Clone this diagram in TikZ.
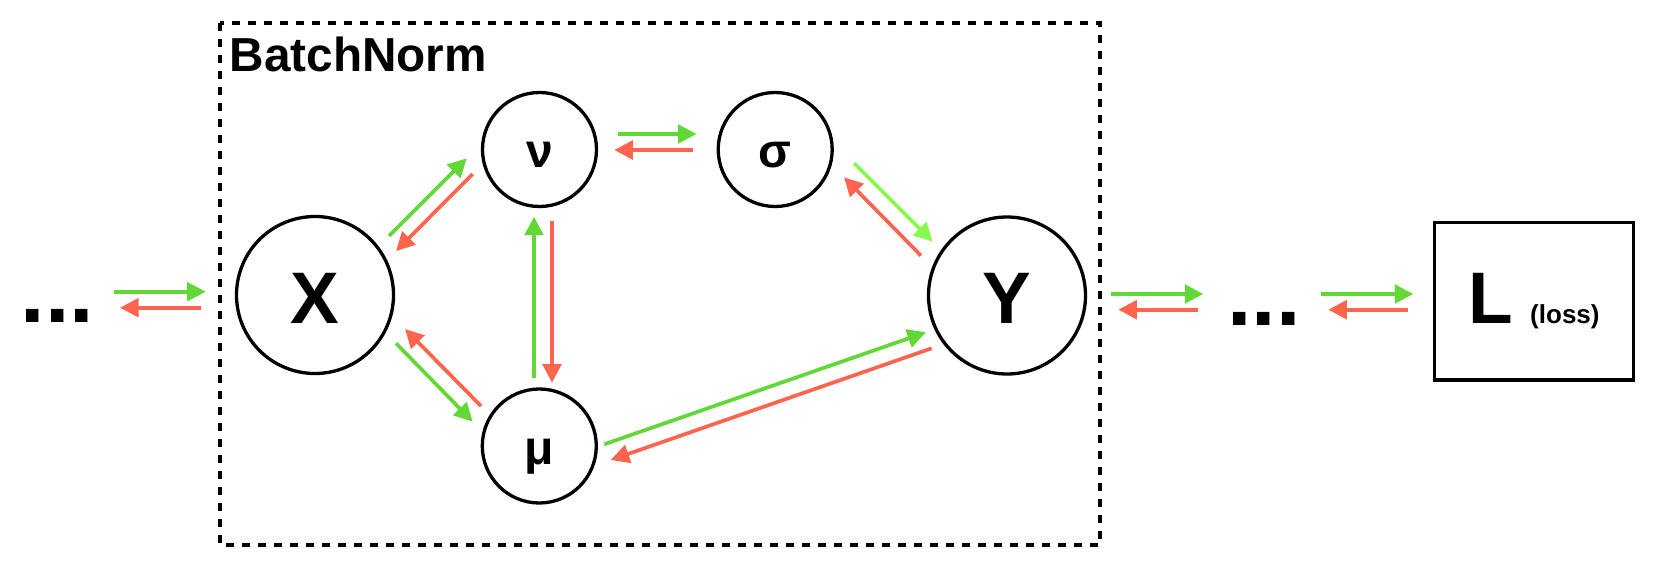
\documentclass[tikz,border=0pt]{standalone}
\usepackage{fontspec}
\setmainfont{Liberation Sans}
\usetikzlibrary{arrows.meta}
\definecolor{fwd}{HTML}{61D836}
\definecolor{bwd}{HTML}{FF644E}
\definecolor{fwdlight}{HTML}{88FA4E}
\begin{document}
\begin{tikzpicture}[x=1pt,y=-1pt,
  var/.style={circle,draw,line width=3.3pt,inner sep=0pt,minimum size=114pt,
    font=\bfseries\fontsize{48}{48}\selectfont,text height=37pt,text depth=0pt},
  bigvar/.style={circle,draw,line width=3.3pt,inner sep=0pt,minimum size=157pt,
    font=\bfseries\fontsize{73}{73}\selectfont,text height=56pt,text depth=0pt},
  lossbox/.style={rectangle,draw,line width=3.3pt,inner sep=0pt,minimum width=199pt,
    minimum height=157.7pt,font=\bfseries\fontsize{73}{73}\selectfont},
  fa/.style={draw=fwd,line width=3.7pt,-{Triangle[length=18.5pt,width=18.5pt]}},
  fal/.style={draw=fwdlight,line width=3.7pt,-{Triangle[length=18.5pt,width=18.5pt]}},
  ba/.style={draw=bwd,line width=3.7pt,-{Triangle[length=18.5pt,width=18.5pt]}},
  dotstext/.style={font=\bfseries\fontsize{88}{88}\selectfont,inner sep=0pt,anchor=base},
  bnframe/.style={line width=4pt,dash pattern=on 8pt off 8pt}
]
\useasboundingbox (0,0) rectangle (1668,564);

% frame and title
\draw[bnframe] (220,23) rectangle (1100,545);
\node[anchor=base west,inner sep=0pt,font=\bfseries\fontsize{47.7}{47.7}\selectfont] (bntitle) at (229.5,72) {BatchNorm};

% nodes
\node[dotstext] (dotsL) at (57.3,322.7) {...};
\node[bigvar] (X) at (315,295) {X};
\node[var] (nu) at (539.5,149.5) {ν};
\node[var] (sigma) at (775.2,149.5) {σ};
\node[var] (mu) at (539.3,446) {μ};
\node[bigvar] (Y) at (1007,295.5) {Y};
\node[dotstext] (dotsR) at (1264,325) {...};
\node[lossbox] (L) at (1533.8,301.2) {L\hspace{17.6pt}{\fontsize{26}{26}\selectfont(loss)}};

% arrow end points
\coordinate (inG1) at (114,291.7);   \coordinate (inG2) at (205.7,291.7);
\coordinate (inR1) at (201,307.7);   \coordinate (inR2) at (120,307.7);
\coordinate (xnG1) at (389,236);     \coordinate (xnG2) at (466.7,158.3);
\coordinate (xnR1) at (472.7,174);   \coordinate (xnR2) at (396,251);
\coordinate (nsG1) at (617.7,134);   \coordinate (nsG2) at (696.5,134);
\coordinate (nsR1) at (692.7,150);   \coordinate (nsR2) at (614.3,150);
\coordinate (syG1) at (854.3,163.3); \coordinate (syG2) at (932.7,241.7);
\coordinate (syR1) at (921,255.7);   \coordinate (syR2) at (844,177.3);
\coordinate (mnG1) at (534,378.3);   \coordinate (mnG2) at (534,216.7);
\coordinate (nmR1) at (552,221);     \coordinate (nmR2) at (552,382.7);
\coordinate (xmG1) at (396,343.3);   \coordinate (xmG2) at (472.7,421.7);
\coordinate (xmR1) at (481,406);     \coordinate (xmR2) at (405,329);
\coordinate (myG1) at (604.3,444.3); \coordinate (myG2) at (926,332.3);
\coordinate (myR1) at (931.7,348.3); \coordinate (myR2) at (610.7,460);
\coordinate (ydG1) at (1111,294);    \coordinate (ydG2) at (1203.3,294);
\coordinate (ydR1) at (1197.7,309.7);\coordinate (ydR2) at (1118.3,309.7);
\coordinate (dlG1) at (1321,294);    \coordinate (dlG2) at (1413.3,294);
\coordinate (dlR1) at (1407.7,309.7);\coordinate (dlR2) at (1328.3,309.7);

% forward (green) and backward (red) arrows
\draw[fa] (inG1) -- (inG2);  \draw[ba] (inR1) -- (inR2);
\draw[fa] (xnG1) -- (xnG2);  \draw[ba] (xnR1) -- (xnR2);
\draw[fa] (nsG1) -- (nsG2);  \draw[ba] (nsR1) -- (nsR2);
\draw[fal] (syG1) -- (syG2); \draw[ba] (syR1) -- (syR2);
\draw[fa] (mnG1) -- (mnG2);  \draw[ba] (nmR1) -- (nmR2);
\draw[fa] (xmG1) -- (xmG2);  \draw[ba] (xmR1) -- (xmR2);
\draw[fa] (myG1) -- (myG2);  \draw[ba] (myR1) -- (myR2);
\draw[fa] (ydG1) -- (ydG2);  \draw[ba] (ydR1) -- (ydR2);
\draw[fa] (dlG1) -- (dlG2);  \draw[ba] (dlR1) -- (dlR2);
\end{tikzpicture}
\end{document}
